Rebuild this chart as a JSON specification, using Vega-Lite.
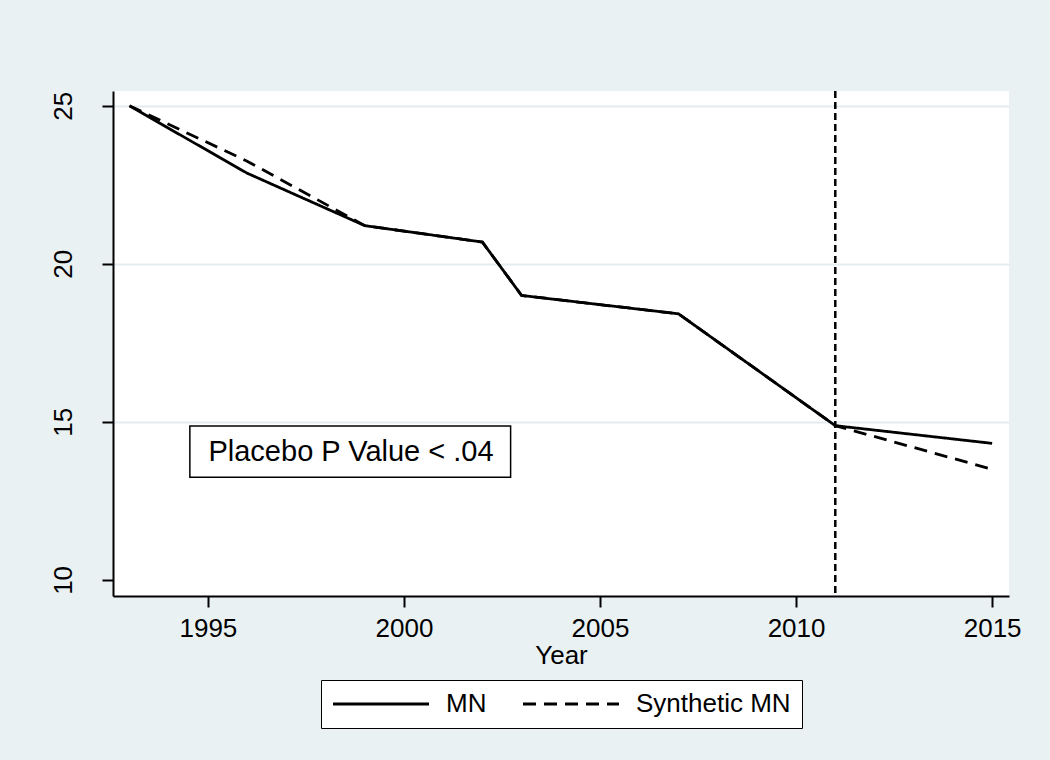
{
  "$schema": "https://vega.github.io/schema/vega-lite/v6.json",
  "width": 896,
  "height": 505,
  "autosize": {"type": "none"},
  "padding": {"left": 113, "top": 91, "right": 41, "bottom": 164},
  "background": "#eaf1f3",
  "config": {
    "view": {"fill": "white", "stroke": null},
    "font": "Liberation Sans",
    "axis": {"labelColor": "black", "titleColor": "black", "domainColor": "black", "tickColor": "black", "domainWidth": 2, "tickWidth": 2, "tickSize": 11}
  },
  "datasets": {
    "series": [
      {"year": 1993, "value": 25.0, "series": "MN"},
      {"year": 1996, "value": 22.87, "series": "MN"},
      {"year": 1999, "value": 21.21, "series": "MN"},
      {"year": 2002, "value": 20.69, "series": "MN"},
      {"year": 2003, "value": 19.0, "series": "MN"},
      {"year": 2007, "value": 18.42, "series": "MN"},
      {"year": 2011, "value": 14.88, "series": "MN"},
      {"year": 2015, "value": 14.32, "series": "MN"},
      {"year": 1993, "value": 25.0, "series": "Synthetic MN"},
      {"year": 1996, "value": 23.25, "series": "Synthetic MN"},
      {"year": 1999, "value": 21.21, "series": "Synthetic MN"},
      {"year": 2002, "value": 20.69, "series": "Synthetic MN"},
      {"year": 2003, "value": 19.0, "series": "Synthetic MN"},
      {"year": 2007, "value": 18.42, "series": "Synthetic MN"},
      {"year": 2011, "value": 14.88, "series": "Synthetic MN"},
      {"year": 2015, "value": 13.5, "series": "Synthetic MN"}
    ],
    "treatment": [{"year": 2011}],
    "note": [{"x1": 1994.54, "x2": 2002.72, "y1": 14.87, "y2": 13.25, "xc": 1998.65, "yc": 14.05, "label": "Placebo P Value < .04"}]
  },
  "layer": [
    {
      "data": {"name": "series"},
      "mark": {"type": "line", "color": "black", "strokeWidth": 2.8},
      "encoding": {
        "x": {
          "field": "year", "type": "quantitative",
          "scale": {"domain": [1992.58, 2015.43], "nice": false, "zero": false},
          "axis": {"values": [1995, 2000, 2005, 2010, 2015], "format": "d", "title": "Year", "titleFontSize": 26, "titleFontWeight": "normal", "titlePadding": 1, "labelFontSize": 26, "labelPadding": 8, "labelFlush": false, "labelOverlap": false, "grid": false}
        },
        "y": {
          "field": "value", "type": "quantitative",
          "scale": {"domain": [9.49, 25.47], "nice": false, "zero": false},
          "axis": {"values": [10, 15, 20, 25], "title": null, "labelFontSize": 26, "labelAngle": -90, "labelAlign": "center", "labelBaseline": "alphabetic", "labelPadding": 31, "grid": true, "gridWidth": 2, "gridColor": {"condition": {"test": "datum.value === 10", "value": "transparent"}, "value": "#e3ecef"}}
        },
        "strokeDash": {
          "field": "series", "type": "nominal",
          "scale": {"domain": ["MN", "Synthetic MN"], "range": [[1, 0], [13, 8]]},
          "legend": {"title": null, "orient": "none", "legendX": 208, "legendY": 589, "direction": "horizontal", "fillColor": "white", "strokeColor": "black", "padding": 11, "symbolType": "M-2,0H14", "symbolSize": 144, "symbolStrokeWidth": 2.8, "symbolStrokeColor": "black", "labelFontSize": 26, "labelColor": "black", "labelOffset": 88, "columnPadding": 30}
        }
      }
    },
    {
      "data": {"name": "treatment"},
      "mark": {"type": "rule", "color": "black", "strokeWidth": 2.5, "strokeDash": [7, 4]},
      "encoding": {"x": {"field": "year", "type": "quantitative"}}
    },
    {
      "data": {"name": "note"},
      "mark": {"type": "rect", "fill": "white", "stroke": "black", "strokeWidth": 1.5},
      "encoding": {
        "x": {"field": "x1", "type": "quantitative"},
        "x2": {"field": "x2"},
        "y": {"field": "y1", "type": "quantitative"},
        "y2": {"field": "y2"}
      }
    },
    {
      "data": {"name": "note"},
      "mark": {"type": "text", "fontSize": 29, "color": "black", "align": "center", "baseline": "middle"},
      "encoding": {
        "x": {"field": "xc", "type": "quantitative"},
        "y": {"field": "yc", "type": "quantitative"},
        "text": {"field": "label"}
      }
    }
  ]
}
